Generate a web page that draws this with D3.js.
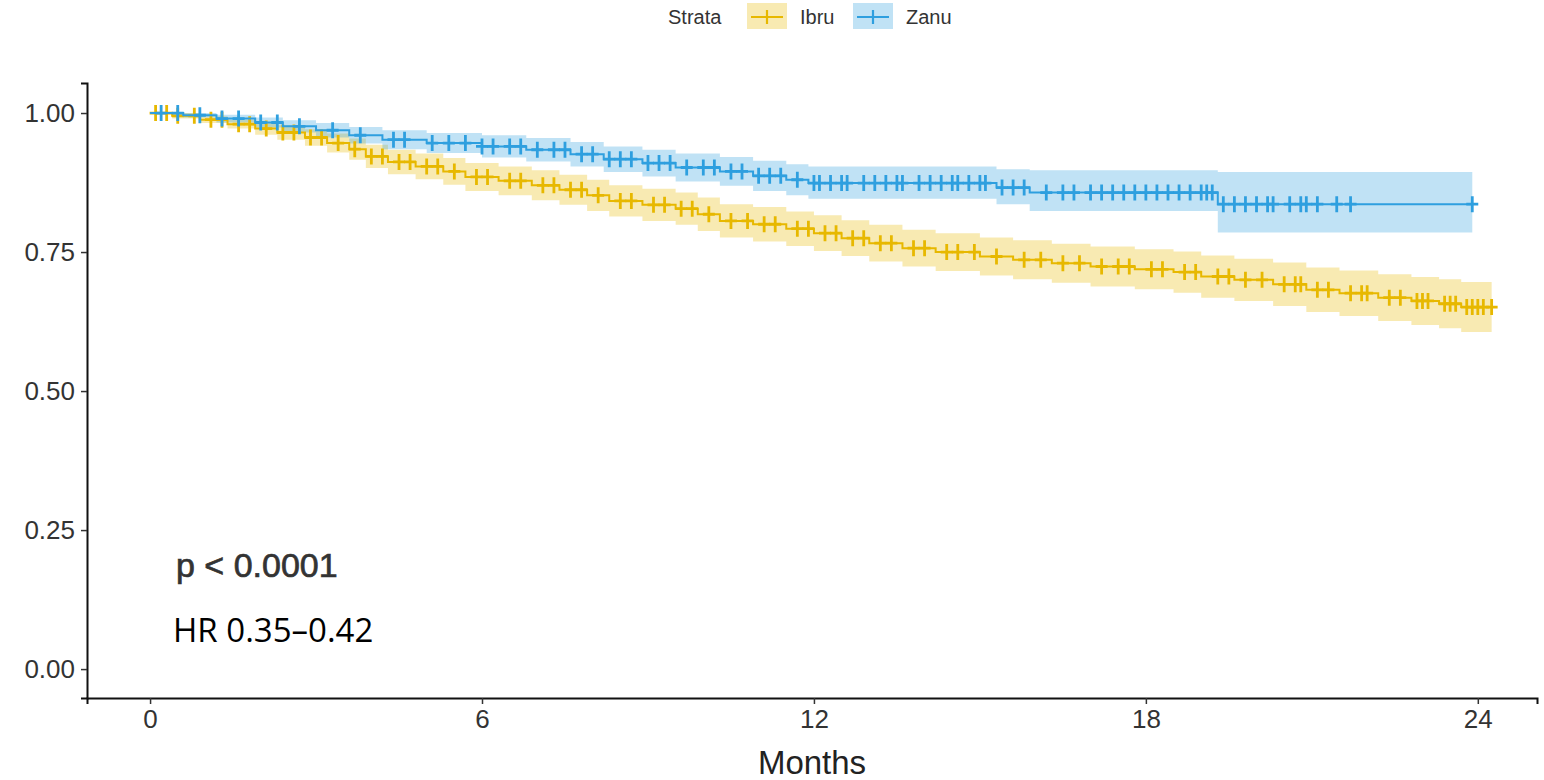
<!DOCTYPE html>
<html>
<head>
<meta charset="utf-8">
<script src="https://cdn.jsdelivr.net/npm/d3@7"></script>
<style>
  body { margin: 0; background: #fff; }
  #chart { width: 1544px; height: 780px; }
  text { font-family: "Liberation Sans", Arial, sans-serif; }
</style>
</head>
<body>
<div id="chart"></div>
<script>
// strata
const strata = ["Ibru", "Zanu"]
const colors = ["#E7B800", "#2E9FDF"]

// Ibru KM steps
const ibruTime = [0, 0.4, 0.9, 1.4, 1.9, 2.3, 2.8, 3.2, 3.6, 3.9, 4.3, 4.8, 5.3, 5.7, 6.3, 6.9, 7.4, 7.9, 8.3, 8.9, 9.5, 9.9, 10.3, 10.9, 11.5, 12.0, 12.5, 13.0, 13.6, 14.2, 15.0, 15.6, 16.3, 17.0, 17.8, 18.5, 19.0, 19.6, 20.3, 20.9, 21.5, 22.2, 22.8, 23.3, 23.7]
const ibruSurv = [1.000, 0.995, 0.988, 0.980, 0.972, 0.965, 0.956, 0.946, 0.935, 0.922, 0.912, 0.904, 0.895, 0.885, 0.878, 0.870, 0.862, 0.852, 0.842, 0.835, 0.828, 0.818, 0.806, 0.800, 0.792, 0.784, 0.775, 0.766, 0.757, 0.750, 0.742, 0.736, 0.730, 0.724, 0.719, 0.714, 0.706, 0.700, 0.692, 0.682, 0.676, 0.668, 0.662, 0.657, 0.651]
const ibruLower = [1.000, 0.990, 0.982, 0.972, 0.961, 0.952, 0.941, 0.929, 0.916, 0.901, 0.890, 0.881, 0.871, 0.860, 0.852, 0.843, 0.835, 0.824, 0.814, 0.806, 0.799, 0.788, 0.776, 0.769, 0.761, 0.752, 0.743, 0.733, 0.724, 0.716, 0.708, 0.701, 0.695, 0.688, 0.683, 0.677, 0.668, 0.662, 0.653, 0.642, 0.635, 0.626, 0.619, 0.613, 0.606]
const ibruUpper = [1.000, 1.000, 0.994, 0.988, 0.983, 0.978, 0.971, 0.963, 0.954, 0.943, 0.934, 0.927, 0.919, 0.910, 0.904, 0.897, 0.889, 0.880, 0.870, 0.864, 0.857, 0.848, 0.836, 0.831, 0.823, 0.816, 0.807, 0.799, 0.790, 0.784, 0.776, 0.771, 0.765, 0.760, 0.755, 0.751, 0.744, 0.738, 0.731, 0.722, 0.717, 0.710, 0.705, 0.701, 0.696]
const ibruCensor = [0.1, 0.3, 0.5, 0.8, 1.1, 1.3, 1.6, 1.8, 2.1, 2.4, 2.6, 2.9, 3.1, 3.4, 3.7, 4.0, 4.2, 4.5, 4.7, 5.0, 5.2, 5.5, 5.9, 6.1, 6.5, 6.7, 7.1, 7.3, 7.6, 7.8, 8.1, 8.5, 8.7, 9.1, 9.3, 9.6, 9.8, 10.1, 10.5, 10.8, 11.1, 11.3, 11.7, 11.9, 12.2, 12.4, 12.7, 12.9, 13.2, 13.4, 13.8, 14.0, 14.4, 14.6, 14.9, 15.3, 15.8, 16.1, 16.5, 16.8, 17.2, 17.5, 17.7, 18.1, 18.3, 18.7, 18.9, 19.3, 19.5, 19.8, 20.1, 20.5, 20.7, 20.8, 21.1, 21.3, 21.7, 21.9, 22.0, 22.4, 22.6, 22.9, 23.0, 23.1, 23.4, 23.5, 23.6, 23.8, 23.9, 24.0, 24.1, 24.25]
const ibruEnd = 24.25

// Zanu KM steps
const zanuTime = [0, 0.6, 1.2, 1.9, 2.4, 3.0, 3.6, 4.2, 5.0, 6.0, 6.8, 7.6, 8.2, 8.9, 9.5, 10.3, 10.9, 11.5, 11.9, 15.3, 15.9, 19.3]
const zanuSurv = [1.000, 0.996, 0.990, 0.983, 0.976, 0.969, 0.960, 0.952, 0.946, 0.940, 0.934, 0.926, 0.917, 0.910, 0.902, 0.895, 0.887, 0.880, 0.874, 0.866, 0.857, 0.836]
const zanuLower = [1.000, 0.992, 0.983, 0.974, 0.965, 0.956, 0.945, 0.935, 0.928, 0.920, 0.913, 0.904, 0.894, 0.886, 0.877, 0.869, 0.860, 0.852, 0.846, 0.836, 0.824, 0.785]
const zanuUpper = [1.000, 1.000, 0.997, 0.992, 0.987, 0.982, 0.975, 0.969, 0.964, 0.960, 0.955, 0.948, 0.940, 0.934, 0.927, 0.921, 0.914, 0.908, 0.904, 0.899, 0.897, 0.894]
const zanuCensor = [0.2, 0.5, 0.9, 1.3, 1.6, 2.0, 2.3, 2.7, 3.3, 3.8, 4.4, 4.6, 5.1, 5.4, 5.7, 6.0, 6.2, 6.5, 6.7, 7.0, 7.3, 7.5, 7.8, 8.0, 8.3, 8.5, 8.7, 9.0, 9.2, 9.4, 9.7, 10.0, 10.2, 10.5, 10.7, 11.0, 11.2, 11.4, 11.7, 12.0, 12.1, 12.3, 12.5, 12.6, 12.9, 13.1, 13.3, 13.5, 13.6, 13.9, 14.1, 14.3, 14.5, 14.6, 14.8, 15.0, 15.1, 15.4, 15.6, 15.8, 16.2, 16.5, 16.7, 17.0, 17.2, 17.4, 17.6, 17.8, 18.0, 18.2, 18.4, 18.6, 18.8, 19.0, 19.1, 19.2, 19.4, 19.6, 19.8, 20.0, 20.2, 20.3, 20.6, 20.8, 20.9, 21.1, 21.45, 21.7, 23.9]
const zanuEnd = 23.9

const xTicks = [0, 6, 12, 18, 24]
const yTicks = [0, 0.25, 0.5, 0.75, 1]

const groups = [
  { name: strata[0], color: colors[0], time: ibruTime, surv: ibruSurv, lo: ibruLower, hi: ibruUpper, censor: ibruCensor, end: ibruEnd },
  { name: strata[1], color: colors[1], time: zanuTime, surv: zanuSurv, lo: zanuLower, hi: zanuUpper, censor: zanuCensor, end: zanuEnd }
]

const W = 1544, H = 780

const svg = d3.select("#chart").append("svg")
  .attr("width", W)
  .attr("height", H)

const x = d3.scaleLinear().domain([-1.14, 25.07]).range([87, 1537])
const y = d3.scaleLinear().domain([-0.052, 1.054]).range([698, 83])

// 置信带
groups.forEach(g => {
  const pts = g.time.map((t, i) => ({ t, s: g.surv[i], lo: g.lo[i], hi: g.hi[i] }))
  const last = pts[pts.length - 1]
  pts.push({ t: g.end, s: last.s, lo: last.lo, hi: last.hi })

  const area = d3.area()
    .curve(d3.curveStepAfter)
    .x(d => x(d.t))
    .y0(d => y(d.lo))
    .y1(d => y(d.hi))

  svg.append("path")
    .datum(pts)
    .attr("d", area)
    .attr("fill", g.color)
    .attr("fill-opacity", 0.3)
})

// 生存曲线 + 删失标记
groups.forEach(g => {
  const pts = g.time.map((t, i) => ({ t, s: g.surv[i] }))
  pts.push({ t: g.end, s: g.surv[g.surv.length - 1] })

  const line = d3.line()
    .curve(d3.curveStepAfter)
    .x(d => x(d.t))
    .y(d => y(d.s))

  svg.append("path")
    .datum(pts)
    .attr("d", line)
    .attr("fill", "none")
    .attr("stroke", g.color)
    .attr("stroke-width", 2)

  const survAt = t => g.surv[Math.max(0, d3.bisectRight(g.time, t) - 1)]

  svg.append("g")
    .selectAll("path")
    .data(g.censor)
    .enter()
    .append("path")
    .attr("d", t => {
      const cx = x(t), cy = y(survAt(t))
      return `M${cx - 6},${cy}H${cx + 6}M${cx},${cy - 8}V${cy + 8}`
    })
    .attr("stroke", g.color)
    .attr("stroke-width", 2.8)
    .attr("fill", "none")
})

// 坐标轴
const xAxis = d3.axisBottom(x).tickValues(xTicks).tickSize(6).tickPadding(6).tickFormat(d3.format("d"))
const yAxis = d3.axisLeft(y).tickValues(yTicks).tickSize(6).tickPadding(6).tickFormat(d3.format(".2f"))

const gx = svg.append("g").attr("transform", `translate(0, 698)`).call(xAxis)
const gy = svg.append("g").attr("transform", `translate(87, 0)`).call(yAxis)

;[gx, gy].forEach(g => {
  g.select(".domain").attr("stroke", "#111").attr("stroke-width", 2)
  g.selectAll(".tick line").attr("stroke", "#333").attr("stroke-width", 1.5)
  g.selectAll(".tick text")
    .attr("fill", "#333")
    .style("font-size", "26px")
    .style("font-family", "'Liberation Sans', Arial, sans-serif")
})

svg.append("text")
  .attr("x", 812)
  .attr("y", 774)
  .attr("text-anchor", "middle")
  .style("font-size", "33px")
  .attr("fill", "#222")
  .text("Months")

// p值与HR
svg.append("text")
  .attr("x", 176)
  .attr("y", 577)
  .style("font-size", "34px")
  .attr("fill", "#333")
  .attr("stroke", "#333")
  .attr("stroke-width", 0.7)
  .text("p < 0.0001")

svg.append("text")
  .attr("x", 173)
  .attr("y", 642)
  .style("font-size", "33px")
  .style("font-family", "'Open Sans', sans-serif")
  .attr("fill", "#000")
  .text("HR 0.35–0.42")

// 图例
const legend = svg.append("g").attr("transform", "translate(0, 17)")
legend.append("text")
  .attr("x", 668)
  .attr("y", 7)
  .style("font-size", "20px")
  .attr("fill", "#333")
  .text("Strata")

const keyX = [747, 853]
const labX = [800, 906]
groups.forEach((g, i) => {
  legend.append("rect")
    .attr("x", keyX[i])
    .attr("y", -14)
    .attr("width", 40)
    .attr("height", 26)
    .attr("fill", g.color)
    .attr("fill-opacity", 0.3)
  legend.append("path")
    .attr("d", `M${keyX[i] + 4},0H${keyX[i] + 36}M${keyX[i] + 20},-7V7`)
    .attr("stroke", g.color)
    .attr("stroke-width", 2.2)
  legend.append("text")
    .attr("x", labX[i])
    .attr("y", 7)
    .style("font-size", "20px")
    .attr("fill", "#333")
    .text(g.name)
})
</script>
</body>
</html>
